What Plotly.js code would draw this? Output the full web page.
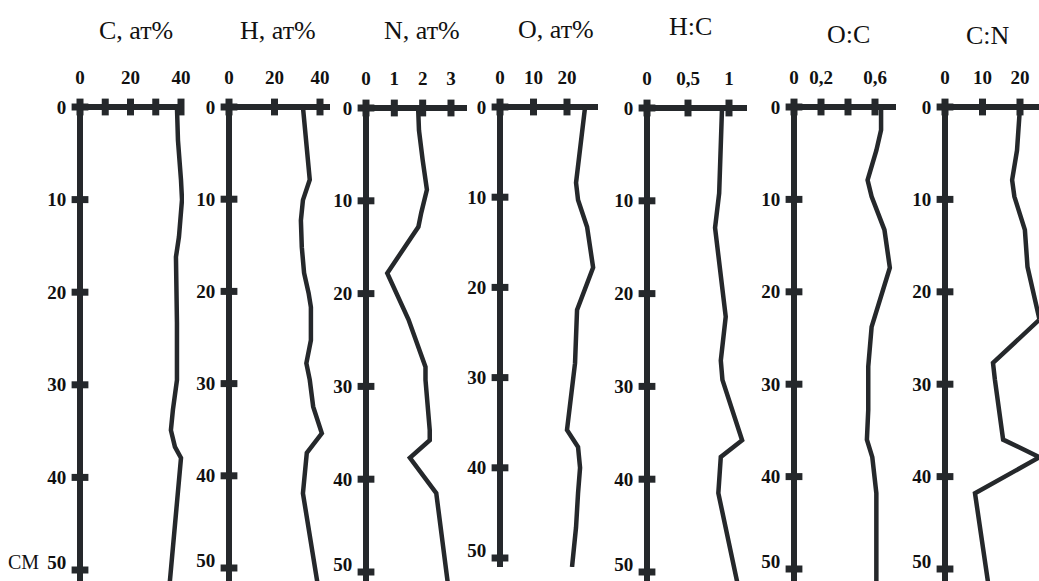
<!DOCTYPE html>
<html><head><meta charset="utf-8">
<script src="https://cdn.plot.ly/plotly-3.0.1.min.js"></script>
<style>html,body{margin:0;padding:0;background:#fff}#chart{width:1039px;height:581px}</style>
</head><body><div id="chart"></div>
<script>
// ---- data (depth in cm) ----
const panelTitles = ['C, ат%', 'H, ат%', 'N, ат%', 'O, ат%', 'H:C', 'O:C', 'C:N'];
const depthTicks = [0, 10, 20, 30, 40, 50];
const depthLabels = ['0', '10', '20', '30', '40', '50'];

const depthC = [0, 3.6, 7.9, 10, 14, 16.2, 23.3, 29.5, 32.7, 34.9, 36.7, 37.9, 51.5];
const valC   = [38.4, 38.8, 40, 40.4, 39.2, 38, 38.4, 38.4, 36.8, 36, 37.6, 40, 35.5];

const depthH = [0, 3.6, 7.9, 10.1, 12.3, 15.2, 18, 20.2, 21.7, 25.3, 27.8, 29.6, 32.5, 35.4, 37.5, 41.9, 51.5];
const valH   = [32.5, 33.8, 35.5, 32.5, 31.6, 32, 33, 35, 36, 36, 34, 35.5, 37, 40.8, 34.2, 32.5, 38.8];

const depthN = [0, 2.4, 5.6, 8.8, 11.3, 12.8, 17.8, 22.8, 27.9, 29.3, 34.7, 35.8, 37.7, 41.5, 51.5];
const valN   = [1.84, 1.87, 2.0, 2.15, 1.95, 1.85, 0.75, 1.5, 2.1, 2.1, 2.25, 2.25, 1.55, 2.48, 2.9];

const depthO = [0, 2.5, 5.9, 8.4, 10.3, 13.3, 17.8, 22.5, 28.4, 30.3, 35.8, 37.7, 40, 42.8, 46.6, 51];
const valO   = [25.4, 24.5, 23.3, 22.7, 23.3, 26, 27.8, 23, 22.4, 21.8, 20, 23.3, 23.9, 23.3, 22.7, 21.5];

const depthHC = [0, 4.5, 9.2, 12.9, 16.7, 22.5, 27.2, 29.3, 35.8, 37.6, 41.5, 51.5];
const valHC   = [0.915, 0.9, 0.88, 0.83, 0.88, 0.96, 0.9, 0.92, 1.16, 0.9, 0.87, 1.11];

const depthOC = [0, 2.5, 4.7, 7.9, 9.7, 13.3, 17.4, 22.3, 23.8, 28.1, 32.8, 36, 37.9, 41.8, 51.5];
const valOC   = [0.645, 0.645, 0.61, 0.545, 0.575, 0.67, 0.71, 0.6, 0.575, 0.55, 0.55, 0.54, 0.58, 0.61, 0.61];

const depthCN = [0, 4.7, 7.9, 9.7, 13.3, 17.3, 23, 27.7, 29.5, 36, 37.9, 41.8, 51.5];
const valCN   = [20, 19.2, 17.9, 18.5, 21.3, 22, 25.2, 12.8, 13.3, 15.5, 25.2, 8, 11.5];

const ticksC = [0, 10, 20, 30, 40];      const labelsC = ['0', '', '20', '', '40'];
const ticksH = [0, 20, 40];              const labelsH = ['0', '20', '40'];
const ticksN = [0, 1, 2, 3];             const labelsN = ['0', '1', '2', '3'];
const ticksO = [0, 10, 20];              const labelsO = ['0', '10', '20'];
const ticksHC = [0, 0.5, 1];             const labelsHC = ['0', '0,5', '1'];
const ticksOC = [0, 0.2, 0.4, 0.6];      const labelsOC = ['0', '0,2', '', '0,6'];
const ticksCN = [0, 10, 20];             const labelsCN = ['0', '10', '20'];

// ---- layout geometry (pixels) ----
const W = 1039, H = 581, PAD = 3, BOTTOM_LABEL_LIFT = 8;
const geom = [
  {px0: 80,  ux: 2.525, xEnd: 184, py0: 107, uy: 9.26, bottom: 581, tx: 136, ty: 31},
  {px0: 229, ux: 2.275, xEnd: 330, py0: 107, uy: 9.22, bottom: 581, tx: 278, ty: 31},
  {px0: 366, ux: 28.33, xEnd: 467, py0: 108, uy: 9.28, bottom: 581, tx: 422, ty: 31},
  {px0: 500, ux: 3.35,  xEnd: 598, py0: 107, uy: 9.02, bottom: 567, tx: 556, ty: 29},
  {px0: 647, ux: 82,    xEnd: 747, py0: 108, uy: 9.28, bottom: 581, tx: 690, ty: 27},
  {px0: 794, ux: 135,   xEnd: 896, py0: 107, uy: 9.24, bottom: 581, tx: 848, ty: 34},
  {px0: 945, ux: 3.75,  xEnd: 1039, py0: 107, uy: 9.24, bottom: 581, tx: 988, ty: 36}
];
const series = [
  [depthC, valC, ticksC, labelsC], [depthH, valH, ticksH, labelsH], [depthN, valN, ticksN, labelsN],
  [depthO, valO, ticksO, labelsO], [depthHC, valHC, ticksHC, labelsHC], [depthOC, valOC, ticksOC, labelsOC],
  [depthCN, valCN, ticksCN, labelsCN]
];

const INK = '#25282b';
const tickFont = {family: 'Liberation Serif', size: 19, color: '#111', weight: 'bold'};
const traces = [];
const layout = {
  width: W, height: H, margin: {l: 0, r: 0, t: 0, b: 0},
  paper_bgcolor: '#fff', plot_bgcolor: 'rgba(0,0,0,0)', showlegend: false,
  annotations: []
};

series.forEach((s, i) => {
  const [dep, val, tks, lbl] = s;
  const g = geom[i];
  const n = i + 1;
  const xa = 'x' + n, ya = 'y' + n;
  traces.push({x: val, y: dep, xaxis: xa, yaxis: ya, mode: 'lines', hoverinfo: 'skip',
    line: {color: INK, width: 4.5}});
  traces.push({x: tks, y: tks.map(() => 0), xaxis: xa, yaxis: ya, mode: 'markers', cliponaxis: false,
    hoverinfo: 'skip', marker: {symbol: 'line-ns', size: 12, line: {color: INK, width: 7}}});
  traces.push({x: depthTicks.map(() => 0), y: depthTicks, xaxis: xa, yaxis: ya, mode: 'markers', cliponaxis: false,
    hoverinfo: 'skip', marker: {symbol: 'line-ew', size: 12, line: {color: INK, width: 7}}});
  const xn = n === 1 ? 'xaxis' : 'xaxis' + n;
  const yn = n === 1 ? 'yaxis' : 'yaxis' + n;
  const maxDepth = depthTicks[depthTicks.length - 1];
  // the lowest depth label sits a little above its tick in the reference
  const labelPos = depthTicks.map(d => d === maxDepth ? d - BOTTOM_LABEL_LIFT / g.uy : d);
  layout[xn] = {
    domain: [(g.px0 - PAD) / W, g.xEnd / W], anchor: ya, side: 'top',
    range: [-PAD / g.ux, (g.xEnd - g.px0) / g.ux],
    tickmode: 'array', tickvals: tks, ticktext: lbl,
    ticks: 'outside', ticklen: 11, tickcolor: 'rgba(0,0,0,0)',
    tickfont: tickFont, showgrid: false, showline: false, ticklabeloverflow: 'allow',
    zeroline: true, zerolinecolor: INK, zerolinewidth: 5.5, fixedrange: true
  };
  layout[yn] = {
    domain: [(H - g.bottom) / H, (H - (g.py0 - PAD)) / H], anchor: xa,
    range: [(g.bottom - g.py0) / g.uy, -PAD / g.uy],
    tickmode: 'array', tickvals: labelPos, ticktext: depthLabels,
    ticks: 'outside', ticklen: 6, tickcolor: 'rgba(0,0,0,0)',
    tickfont: tickFont, showgrid: false, showline: false, ticklabeloverflow: 'allow',
    zeroline: true, zerolinecolor: INK, zerolinewidth: 6.5, fixedrange: true
  };
  layout.annotations.push({
    text: panelTitles[i], xref: 'paper', yref: 'paper', x: g.tx / W, y: 1 - g.ty / H,
    xanchor: 'center', yanchor: 'middle', showarrow: false,
    font: {family: 'Liberation Serif', size: 26, color: '#111'}
  });
});

layout.annotations.push({
  text: 'СМ', xref: 'paper', yref: 'paper', x: 23 / W, y: 1 - 562 / H,
  xanchor: 'center', yanchor: 'middle', showarrow: false,
  font: {family: 'Liberation Serif', size: 20, color: '#111'}
});

Plotly.newPlot('chart', traces, layout, {displayModeBar: false, staticPlot: true});
</script>
</body></html>
